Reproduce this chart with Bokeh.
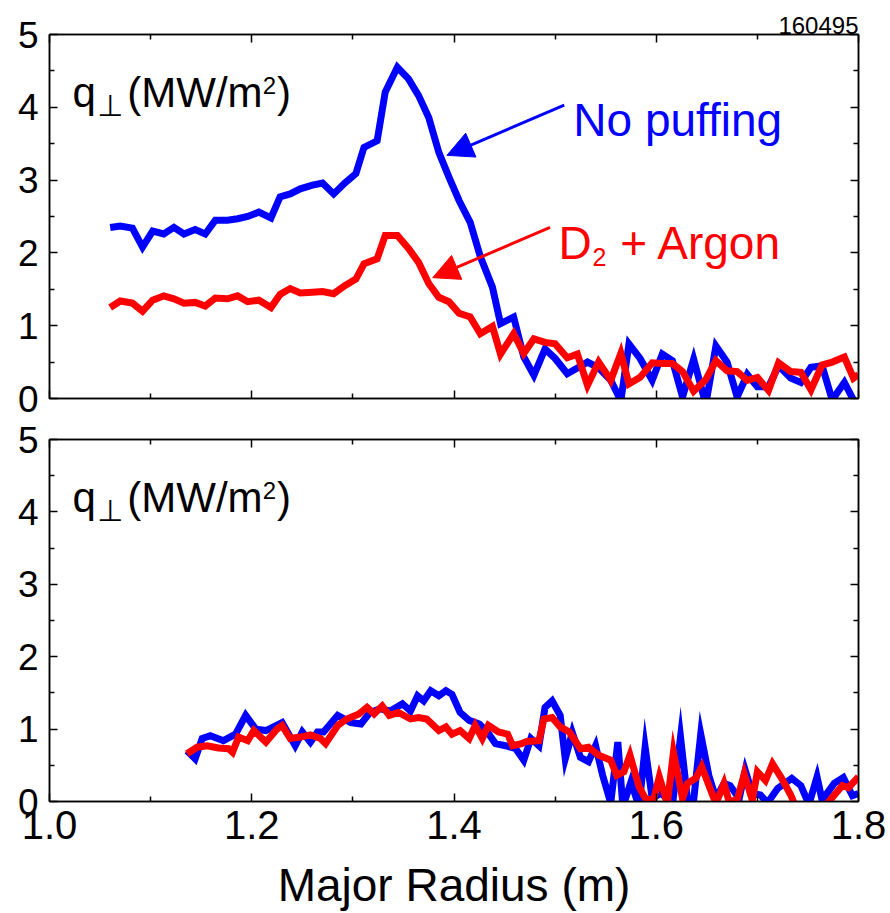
from bokeh.plotting import figure
from bokeh.models import Range1d, FixedTicker, LinearAxis, Label, Arrow, NormalHead, NumeralTickFormatter
from bokeh.layouts import column
from bokeh.embed import file_html
from bokeh.resources import INLINE

# ---------------- data ----------------
X_TICKS = [1.0, 1.2, 1.4, 1.6, 1.8]
X_MINOR = [1.1, 1.3, 1.5, 1.7]
Y_TICKS = [0, 1, 2, 3, 4, 5]
Y_MINOR = [0.5, 1.5, 2.5, 3.5, 4.5]

R_TOP = [1.060, 1.070, 1.082, 1.092, 1.102, 1.113, 1.123, 1.133, 1.144, 1.154,
         1.164, 1.176, 1.186, 1.196, 1.207, 1.219, 1.228, 1.238, 1.248, 1.260,
         1.270, 1.281, 1.292, 1.303, 1.311, 1.324, 1.332, 1.344, 1.355, 1.365,
         1.375, 1.385, 1.395, 1.405, 1.416, 1.426, 1.438, 1.446, 1.459, 1.469,
         1.479, 1.490, 1.500, 1.512, 1.522, 1.532, 1.543, 1.555, 1.565, 1.573,
         1.584, 1.596, 1.606, 1.616, 1.626, 1.637, 1.649, 1.659, 1.670, 1.680,
         1.690, 1.700, 1.711, 1.721, 1.733, 1.743, 1.753, 1.764, 1.774, 1.786,
         1.795, 1.800]

TOP_NO_PUFF = [2.35, 2.37, 2.34, 2.08, 2.30, 2.26, 2.35, 2.26, 2.32, 2.26,
               2.45, 2.45, 2.47, 2.50, 2.56, 2.48, 2.77, 2.81, 2.88, 2.93,
               2.96, 2.81, 2.96, 3.09, 3.45, 3.54, 4.21, 4.55, 4.39, 4.16,
               3.86, 3.38, 3.04, 2.72, 2.42, 1.95, 1.53, 1.03, 1.12, 0.57,
               0.32, 0.68, 0.55, 0.34, 0.42, 0.50, 0.42, 0.25, -0.03, 0.75,
               0.55, 0.25, 0.61, 0.52, 0.02, 0.54, -0.08, 0.72, 0.50, 0.02,
               0.33, 0.16, 0.16, 0.45, 0.28, 0.22, 0.43, 0.45, -0.02, 0.22,
               -0.02]

TOP_D2_AR = [1.25, 1.34, 1.31, 1.20, 1.35, 1.41, 1.37, 1.31, 1.32, 1.27,
             1.38, 1.37, 1.41, 1.33, 1.35, 1.25, 1.43, 1.51, 1.45, 1.46,
             1.47, 1.44, 1.55, 1.64, 1.85, 1.92, 2.24, 2.24, 2.06, 1.87,
             1.58, 1.39, 1.33, 1.17, 1.12, 0.89, 0.99, 0.61, 0.89, 0.62,
             0.82, 0.77, 0.75, 0.56, 0.61, 0.18, 0.50, 0.25, 0.62, 0.20,
             0.29, 0.49, 0.48, 0.48, 0.37, 0.10, 0.26, 0.52, 0.38, 0.37,
             0.25, 0.29, 0.11, 0.49, 0.37, 0.36, 0.12, 0.46, 0.50, 0.57,
             0.28, 0.33]

R_BOT_NO_PUFF = [1.136, 1.144, 1.151, 1.159, 1.172, 1.184, 1.194, 1.204, 1.214, 1.230,
                 1.243, 1.250, 1.258, 1.265, 1.271, 1.285, 1.298, 1.308, 1.317, 1.327,
                 1.337, 1.349, 1.357, 1.364, 1.370, 1.377, 1.385, 1.392, 1.398, 1.406,
                 1.415, 1.425, 1.433, 1.441, 1.451, 1.461, 1.469, 1.476, 1.484, 1.490,
                 1.497, 1.505, 1.510, 1.517, 1.525, 1.533, 1.540, 1.547, 1.555, 1.562,
                 1.567, 1.575, 1.583, 1.589, 1.596, 1.605, 1.616, 1.624, 1.631, 1.637,
                 1.644, 1.652, 1.659, 1.667, 1.673, 1.682, 1.688, 1.695, 1.703, 1.710,
                 1.720, 1.734, 1.743, 1.751, 1.759, 1.764, 1.776, 1.785, 1.794, 1.800]
BOT_NO_PUFF = [0.70, 0.59, 0.87, 0.91, 0.84, 0.93, 1.19, 1.00, 0.98, 1.09,
               0.77, 0.96, 0.82, 0.96, 0.96, 1.19, 1.09, 1.07, 1.23, 1.28,
               1.25, 1.35, 1.25, 1.46, 1.39, 1.53, 1.46, 1.53, 1.48, 1.23,
               1.12, 1.07, 0.96, 0.80, 0.77, 0.73, 0.57, 0.87, 0.77, 1.30,
               1.39, 1.19, 0.59, 0.95, 0.61, 0.55, 0.77, 0.36, -0.02, 0.82,
               -0.07, 0.27, -0.07, 0.75, 0.04, 0.12, -0.05, 0.89, 0.02, 0.02,
               0.93, 0.36, 0.04, 0.25, 0.22, 0.04, 0.43, 0.11, 0.09, -0.02,
               0.18, 0.32, 0.22, -0.04, 0.34, 0.02, 0.25, 0.33, 0.08, 0.11]

R_BOT_D2_AR = [1.136, 1.146, 1.156, 1.167, 1.177, 1.181, 1.187, 1.196, 1.202, 1.214,
               1.225, 1.230, 1.238, 1.248, 1.258, 1.268, 1.273, 1.285, 1.294, 1.306,
               1.314, 1.321, 1.329, 1.336, 1.345, 1.357, 1.365, 1.373, 1.385, 1.392,
               1.398, 1.406, 1.415, 1.421, 1.428, 1.434, 1.444, 1.453, 1.458, 1.467,
               1.472, 1.484, 1.489, 1.497, 1.505, 1.514, 1.525, 1.533, 1.543, 1.555,
               1.561, 1.568, 1.574, 1.583, 1.591, 1.598, 1.603, 1.611, 1.617, 1.626,
               1.631, 1.639, 1.645, 1.659, 1.667, 1.672, 1.680, 1.687, 1.695, 1.700,
               1.708, 1.715, 1.724, 1.733, 1.743, 1.755, 1.764, 1.772, 1.784, 1.790,
               1.800]
BOT_D2_AR = [0.66, 0.75, 0.77, 0.74, 0.73, 0.68, 0.89, 0.84, 0.98, 0.82,
             1.00, 1.05, 0.87, 0.89, 0.92, 0.87, 0.80, 1.05, 1.14, 1.21,
             1.30, 1.21, 1.32, 1.19, 1.23, 1.14, 1.16, 1.14, 0.98, 1.03,
             0.93, 0.98, 0.87, 1.05, 0.87, 1.05, 0.96, 0.93, 0.77, 0.80,
             0.83, 0.84, 1.14, 1.16, 1.03, 0.96, 0.73, 0.75, 0.64, 0.57,
             0.36, 0.41, 0.64, 0.20, 0.00, 0.06, 0.34, -0.03, 0.68, 0.04,
             0.25, 0.32, 0.48, -0.03, 0.25, 0.00, 0.02, 0.38, 0.02, 0.41,
             0.29, 0.52, 0.32, 0.09, -0.25, -0.30, -0.10, 0.02, 0.22, 0.19,
             0.34]

BLUE = "#0000ff"
RED = "#ff0000"
FONT = "Liberation Sans"


def style_axis(ax, labels, kind, size="40px"):
    ax.ticker = FixedTicker(ticks=X_TICKS if kind == "x" else Y_TICKS,
                            minor_ticks=X_MINOR if kind == "x" else Y_MINOR)
    ax.formatter = NumeralTickFormatter(format="0.0" if kind == "x" else "0")
    ax.axis_line_color = "black"
    ax.axis_line_width = 1.5
    ax.major_tick_line_color = "black"
    ax.major_tick_line_width = 1.5
    ax.minor_tick_line_color = "black"
    ax.minor_tick_line_width = 1.5
    ax.major_tick_in = 8
    ax.major_tick_out = 0
    ax.minor_tick_in = 5
    ax.minor_tick_out = 0
    if labels:
        ax.major_label_text_font = FONT
        ax.major_label_text_font_size = size
        ax.major_label_text_color = "black"
    else:
        ax.major_label_text_font_size = "1px"
        ax.major_label_text_color = None
        ax.major_label_standoff = 0


def make_panel(height, top, bottom, xlabels):
    p = figure(width=890, height=height, x_range=Range1d(1.0, 1.8), y_range=Range1d(0, 5),
               output_backend="svg", toolbar_location=None,
               min_border_left=49, min_border_right=32, min_border_top=top,
               min_border_bottom=bottom)
    p.xgrid.visible = False
    p.ygrid.visible = False
    p.outline_line_color = "black"
    p.outline_line_width = 1.5
    p.background_fill_color = "white"
    p.border_fill_color = "white"
    bottom_ax = p.below[0]
    left_ax = p.left[0]
    style_axis(bottom_ax, xlabels, "x")
    style_axis(left_ax, True, "y", "37px")
    left_ax.major_label_standoff = 11
    top_ax = LinearAxis()
    style_axis(top_ax, False, "x")
    p.add_layout(top_ax, "above")
    right_ax = LinearAxis()
    style_axis(right_ax, False, "y")
    p.add_layout(right_ax, "right")

    # q_perp (MW/m^2) label
    p.add_layout(Label(x=1.0227, y=4.20, text="q", text_font=FONT, text_font_size="42px",
                       text_color="black", text_baseline="alphabetic"))
    p.add_layout(Label(x=1.0470, y=4.02, text="\u22a5", text_font="DejaVu Sans", text_font_size="30px",
                       text_color="black", text_baseline="alphabetic"))
    p.add_layout(Label(x=1.0769, y=4.20, text="(MW/m", text_font=FONT, text_font_size="42px",
                       text_color="black", text_baseline="alphabetic"))
    p.add_layout(Label(x=1.2110, y=4.30, text="2", text_font=FONT, text_font_size="24px",
                       text_color="black", text_baseline="alphabetic"))
    p.add_layout(Label(x=1.2250, y=4.20, text=")", text_font=FONT, text_font_size="42px",
                       text_color="black", text_baseline="alphabetic"))
    return p, bottom_ax


p1, _ = make_panel(419, 34, 21, False)
p1.title.text = "160495"
p1.title.align = "right"
p1.title.text_font = FONT
p1.title.text_font_size = "24px"
p1.title.text_font_style = "normal"
p1.title.text_color = "black"
p1.title.standoff = 1

p1.line(R_TOP[:len(TOP_NO_PUFF)], TOP_NO_PUFF, line_color=BLUE, line_width=7, line_join="miter")
p1.line(R_TOP[:len(TOP_D2_AR)], TOP_D2_AR, line_color=RED, line_width=7, line_join="miter")

p1.add_layout(Arrow(end=NormalHead(size=26, fill_color=BLUE, line_color=BLUE),
                    x_start=1.509, y_start=4.03, x_end=1.393, y_end=3.34,
                    line_color=BLUE, line_width=3))
p1.add_layout(Arrow(end=NormalHead(size=26, fill_color=RED, line_color=RED),
                    x_start=1.495, y_start=2.35, x_end=1.379, y_end=1.66,
                    line_color=RED, line_width=3))
p1.add_layout(Label(x=1.518, y=3.82, text="No puffing", text_font=FONT, text_font_size="46px",
                    text_color=BLUE, text_baseline="alphabetic"))
p1.add_layout(Label(x=1.5033, y=2.133, text="D", text_font=FONT, text_font_size="46px",
                    text_color=RED, text_baseline="alphabetic"))
p1.add_layout(Label(x=1.537, y=1.94, text="2", text_font=FONT, text_font_size="25px",
                    text_color=RED, text_baseline="alphabetic"))
p1.add_layout(Label(x=1.5643, y=2.133, text="+ Argon", text_font=FONT, text_font_size="46px",
                    text_color=RED, text_baseline="alphabetic"))

p2, xax = make_panel(494, 20, 110, True)
p2.line(R_BOT_NO_PUFF, BOT_NO_PUFF, line_color=BLUE, line_width=7, line_join="miter")
p2.line(R_BOT_D2_AR, BOT_D2_AR, line_color=RED, line_width=7, line_join="miter")
xax.major_label_standoff = 9
xax.axis_label = "Major Radius (m)"
xax.axis_label_text_font = FONT
xax.axis_label_text_font_size = "46px"
xax.axis_label_text_font_style = "normal"
xax.axis_label_text_color = "black"
xax.axis_label_standoff = 17

layout = column(p1, p2)
open("out.html", "w").write(file_html(layout, INLINE))
